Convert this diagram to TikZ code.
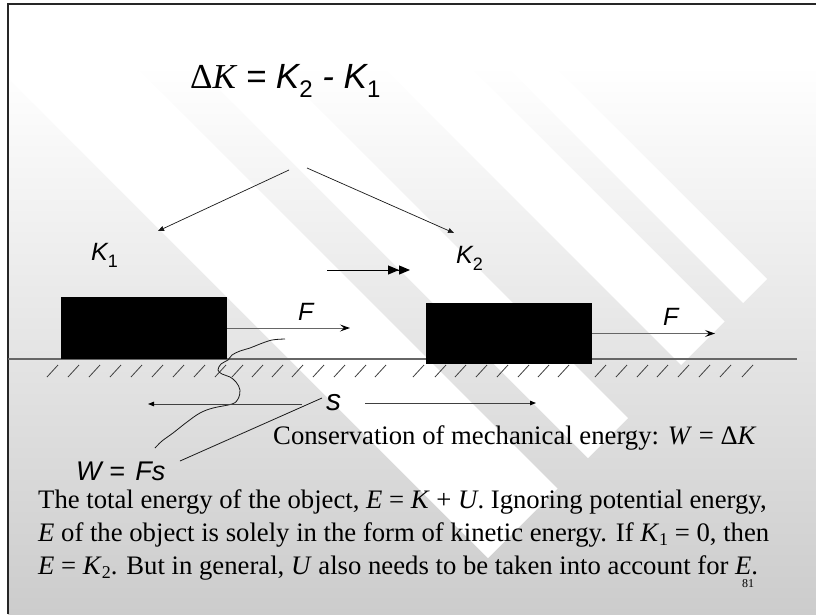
\documentclass[tikz,border=0pt]{standalone}
\usepackage{fontspec}
\setmainfont{Liberation Serif}
\newfontfamily\arial{Liberation Sans}
\usetikzlibrary{arrows.meta}
\newcommand\fsz[1]{\fontsize{#1}{#1}\selectfont}
\newcommand\lowsub[3]{\raisebox{-#2}{\fsz{#3}#1}}
\begin{document}
\begin{tikzpicture}[x=1pt,y=-1pt,
  band/.style={fill=white},
  blockbox/.style={fill=black, draw=none, inner sep=0pt, minimum width=166pt},
  sanslab/.style={font=\arial\itshape\fsz{25}, inner sep=0pt, anchor=base west},
  serlab/.style={font=\fsz{26.7}, inner sep=0pt, anchor=base west},
  thinarrow/.style={line width=0.7pt, black!90, -{Triangle[length=6pt,width=5pt]}},
  farrow/.style={line width=1pt, black!60, -{Stealth[length=10pt,width=7pt,inset=4pt,black]}},
  sarrow/.style={line width=0.9pt, black!75, -{Triangle[length=6pt,width=4.5pt,black]}},
  hatch/.style={line width=0.8pt, black!75},
  fine/.style={line width=0.8pt, black!90}
]
\useasboundingbox (0,0) rectangle (816,614);
% background
\fill[white] (0,0) rectangle (816,614);
\shade[top color=white, bottom color=black!20] (8,65) rectangle (816,614);
\begin{scope}
  \clip (8,65) rectangle (816,614);
  \fill[band] (-5,65) -- (134,65) -- (557.5,488.5) -- (488,558) -- cycle;
  \fill[band] (195,65) -- (275,65) -- (628,418) -- (588,458) -- cycle;
  \fill[band] (381,65) -- (468,65) -- (724.5,321.5) -- (681,365) -- cycle;
  \fill[band] (505,65) -- (553,65) -- (767,279) -- (743,303) -- cycle;
\end{scope}
% frame
\draw[line width=2.5pt, black!85] (8,614) -- (8,4) -- (816,4);

% formula
\node[anchor=base west, inner sep=0pt, font=\arial\itshape\fsz{35}] (dk) at (190,88)
  {{\upshape\rmfamily Δ}{\rmfamily K} = K\lowsub{\upshape 2}{9pt}{24} - K\lowsub{\upshape 1}{9pt}{24}};
\coordinate (a1s) at (289,170);
\coordinate (a1e) at (158,231);
\coordinate (a2s) at (307,168);
\coordinate (a2e) at (454,233);
\draw[thinarrow] (a1s) -- (a1e);
\draw[thinarrow] (a2s) -- (a2e);

\node[sanslab] (k1) at (91,260) {K\lowsub{\upshape 1}{7pt}{18}};
\node[sanslab] (k2) at (456,263) {K\lowsub{\upshape 2}{7pt}{18}};

% motion double arrow
\coordinate (da1) at (327,270);
\coordinate (da2) at (410,270);
\draw[line width=1pt, -{Triangle[length=11pt,width=9pt]Triangle[length=11pt,width=9pt]}] (da1) -- (da2);

% ground
\draw[line width=1.3pt, black!60] (8,359) -- (797,359);
\foreach \x in {47,68,89,110,131,152,173,194,215,
                232,252,272,292,313,334,355,375,
                413,435,455,476,497,518,538,558,
                595,616,637,657,678,699,720,742}
  \draw[hatch] (\x,377) -- ++(11,-12);

% blocks
\node[blockbox, minimum height=62pt] (b1) at (144,328) {};
\node[blockbox, minimum height=61pt] (b2) at (509,333.5) {};

% forces
\coordinate (f1e) at (350,328);
\coordinate (f2e) at (715,333.5);
\draw[farrow] (b1.east) -- (f1e);
\draw[farrow] (b2.east) -- (f2e);
\node[sanslab] (F1) at (298,320) {F};
\node[sanslab] (F2) at (663,325) {F};

% squiggle
\draw[fine] plot[smooth, tension=0.6] coordinates {(285,339) (272,340) (260,344) (250,348) (240,351) (232,355) (228,360) (221,364) (218,370) (222,374) (230,377) (236,382) (240,390) (238,399) (232,404) (213,408) (200,413) (187,422) (173,433) (162,441) (155,448)};

% displacement
\node[font=\arial\itshape\fsz{30}, inner sep=0pt, anchor=base west] (s) at (326,410) {s};
\coordinate (sl1) at (302,404);
\coordinate (sl2) at (148,404);
\coordinate (sr1) at (365,403);
\coordinate (sr2) at (536,403);
\draw[sarrow] (sl1) -- (sl2);
\draw[sarrow] (sr1) -- (sr2);

\node[font=\arial\itshape\fsz{27}, inner sep=0pt, anchor=base west] (w) at (76,480) {W = \hspace{3pt}Fs};
\coordinate (sw1) at (322,398);
\coordinate (sw2) at (180,461);
\draw[fine] (sw1) -- (sw2);

% texts
\node[serlab] (cons) at (273,444) {Conservation of mechanical energy: \textit{W} = Δ\textit{K}};
\node[serlab] (p1) at (38,508) {The total energy of the object, \textit{E} = \textit{K} + \textit{U}. Ignoring potential energy,};
\node[serlab] (p2) at (38,541) {\textit{E} of the object is solely in the form of kinetic energy. If \textit{K}\lowsub{1}{4pt}{18} = 0, then};
\node[serlab] (p3) at (38,574) {\textit{E} = \textit{K}\lowsub{2}{4pt}{18}. But in general, \textit{U} also needs to be taken into account for \textit{E}.};
\node[font=\fsz{12}, inner sep=0pt] (pg) at (748,584) {81};
\end{tikzpicture}
\end{document}
